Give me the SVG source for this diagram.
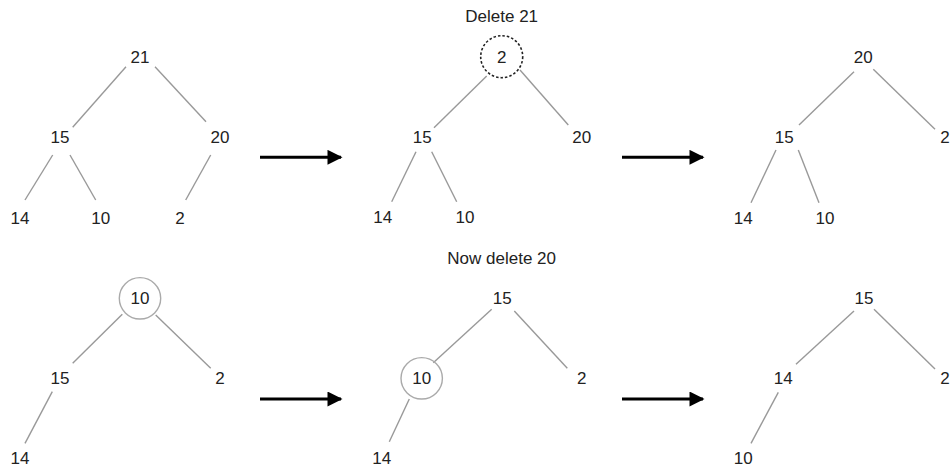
<svg xmlns="http://www.w3.org/2000/svg" width="951" height="468" viewBox="0 0 951 468">
<defs>
<style>
text{font-family:"Liberation Sans",Arial,sans-serif;font-size:17px;fill:#222;text-anchor:middle}
.e line{stroke:#999;stroke-width:1.4}
.e line.arrow{stroke:#000;stroke-width:3}
.ring{fill:none;stroke:#aaa;stroke-width:1.4}
.dash{fill:none;stroke:#222;stroke-width:1.6;stroke-dasharray:2.5 2}
</style>
<marker id="ah" viewBox="0 0 10 10" refX="9" refY="5" markerWidth="5.5" markerHeight="5" markerUnits="strokeWidth" orient="auto">
<path d="M0,0 L10,5 L0,10 Z" fill="#000"/>
</marker>
</defs>
<rect width="951" height="468" fill="#fff"/>
<text x="501.7" y="22">Delete 21</text>
<text x="501.7" y="263.5">Now delete 20</text>

<g id="connectors" class="e">
<line x1="126" y1="66.7" x2="72.7" y2="127.3"/>
<line x1="155" y1="66.7" x2="206" y2="121.7"/>
<line x1="52.7" y1="155" x2="25" y2="200"/>
<line x1="70" y1="155" x2="95.7" y2="200"/>
<line x1="210.7" y1="155" x2="185.7" y2="200"/>

<line x1="486.7" y1="76" x2="434" y2="127.7"/>
<line x1="520" y1="70" x2="568.3" y2="125"/>
<line x1="416" y1="151.7" x2="391.7" y2="201.7"/>
<line x1="431.7" y1="151.7" x2="456.7" y2="201.7"/>

<line x1="854" y1="71.7" x2="799" y2="125"/>
<line x1="873.3" y1="69.3" x2="935" y2="129.3"/>
<line x1="776" y1="150" x2="751" y2="202.7"/>
<line x1="798.3" y1="150" x2="819" y2="202.7"/>

<line x1="122.3" y1="314.3" x2="72.7" y2="363.3"/>
<line x1="155.7" y1="315" x2="210.7" y2="368.3"/>
<line x1="52.3" y1="391.7" x2="25" y2="443.3"/>

<line x1="491.7" y1="309.3" x2="433.3" y2="362.7"/>
<line x1="514.3" y1="311" x2="567.3" y2="368.3"/>
<line x1="409.3" y1="399" x2="389.3" y2="441.7"/>

<line x1="854" y1="311" x2="796" y2="364.3"/>
<line x1="874" y1="309.3" x2="935" y2="369"/>
<line x1="778.3" y1="392.3" x2="751" y2="443.3"/>

<line class="arrow" x1="260" y1="157.3" x2="341" y2="157.3" marker-end="url(#ah)"/>
<line class="arrow" x1="622" y1="157.3" x2="703" y2="157.3" marker-end="url(#ah)"/>
<line class="arrow" x1="260" y1="399" x2="341" y2="399" marker-end="url(#ah)"/>
<line class="arrow" x1="622" y1="399" x2="703" y2="399" marker-end="url(#ah)"/>
</g>

<g id="t1-21"><text x="140" y="62.7">21</text></g>
<g id="t1-15"><text x="60" y="143.3">15</text></g>
<g id="t1-20"><text x="220" y="143.3">20</text></g>
<g id="t1-14"><text x="20" y="223.7">14</text></g>
<g id="t1-10"><text x="100.7" y="223.7">10</text></g>
<g id="t1-2"><text x="180" y="223.7">2</text></g>

<g id="t2-2"><circle class="dash" cx="501.7" cy="56.7" r="21"/><text x="501.7" y="62.7">2</text></g>
<g id="t2-15"><text x="422.3" y="143.3">15</text></g>
<g id="t2-20"><text x="581.7" y="143.3">20</text></g>
<g id="t2-14"><text x="382.7" y="222.7">14</text></g>
<g id="t2-10"><text x="465" y="222.7">10</text></g>

<g id="t3-20"><text x="863.3" y="62.7">20</text></g>
<g id="t3-15"><text x="784.3" y="143.3">15</text></g>
<g id="t3-2"><text x="945" y="143.3">2</text></g>
<g id="t3-14"><text x="743.3" y="223.7">14</text></g>
<g id="t3-10"><text x="825" y="223.7">10</text></g>

<g id="t4-10"><circle class="ring" cx="140" cy="298.3" r="20.7"/><text x="140" y="304.3">10</text></g>
<g id="t4-15"><text x="60" y="384.3">15</text></g>
<g id="t4-2"><text x="220" y="384.3">2</text></g>
<g id="t4-14"><text x="20" y="464.3">14</text></g>

<g id="t5-15"><text x="502.3" y="303.7">15</text></g>
<g id="t5-10"><circle class="ring" cx="421.7" cy="378.3" r="20.7"/><text x="421.7" y="384.3">10</text></g>
<g id="t5-2"><text x="581.7" y="384.3">2</text></g>
<g id="t5-14"><text x="381.7" y="464.3">14</text></g>

<g id="t6-15"><text x="864" y="304.3">15</text></g>
<g id="t6-14"><text x="783.3" y="384.3">14</text></g>
<g id="t6-2"><text x="945" y="384.3">2</text></g>
<g id="t6-10"><text x="743.3" y="464.3">10</text></g>
</svg>
